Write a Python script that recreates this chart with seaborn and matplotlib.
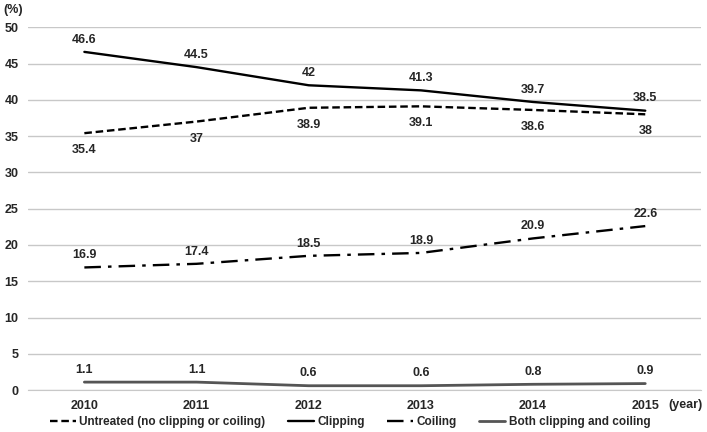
import numpy as np
import pandas as pd
import matplotlib
matplotlib.use("Agg")
import matplotlib.pyplot as plt
import seaborn as sns

years = [2010, 2011, 2012, 2013, 2014, 2015]
untreated = [35.4, 37, 38.9, 39.1, 38.6, 38]
clipping = [46.6, 44.5, 42, 41.3, 39.7, 38.5]
coiling = [16.9, 17.4, 18.5, 18.9, 20.9, 22.6]
both = [1.1, 1.1, 0.6, 0.6, 0.8, 0.9]

names = ["Untreated (no clipping or coiling)", "Clipping", "Coiling",
         "Both clipping and coiling"]
series = [untreated, clipping, coiling, both]

sns.set_style("white")
plt.rcParams['font.family'] = ['Liberation Sans', 'DejaVu Sans']

rows = []
for n, vals in zip(names, series):
    for i, (y, v) in enumerate(zip(years, vals)):
        rows.append({"pos": i, "year": y, "value": v, "series": n})
df = pd.DataFrame(rows)

fig = plt.figure(figsize=(7.07, 4.32), dpi=100)
ax = fig.add_axes([0.04, 0.097, 0.952, 0.84])

styles = {
    names[0]: dict(color="black", ls=(0, (3.2, 1.6)), lw=1.7),
    names[1]: dict(color="black", ls="-", lw=1.7),
    names[2]: dict(color="black", ls=(0, (7, 3, 1.5, 3)), lw=1.7),
    names[3]: dict(color="#555555", ls="-", lw=2.0),
}

for n in names:
    sub = df[df.series == n]
    st = styles[n]
    sns.lineplot(data=sub, x="pos", y="value", ax=ax, color=st["color"],
                 linestyle=st["ls"], linewidth=st["lw"], label=n)

# data labels
for n, vals in zip(names, series):
    below = n == names[0]
    for i, v in enumerate(vals):
        txt = f"{v:g}"
        if below:
            ax.annotate(txt, (i, v), xytext=(0, -8), textcoords="offset points",
                        ha="center", va="top", fontsize=9, fontweight="bold")
        else:
            ax.annotate(txt, (i, v), xytext=(0, 4.5), textcoords="offset points",
                        ha="center", va="bottom", fontsize=9, fontweight="bold")

ax.set_xlim(-0.5, 5.5)
ax.set_ylim(0, 50)
ax.set_yticks(np.arange(0, 51, 5))
ax.set_xticks(range(len(years)))
ax.set_xticklabels([str(y) for y in years])
ax.yaxis.grid(True, color="#c8c8c8", lw=1)
ax.set_axisbelow(True)
for s in ["top", "right", "left"]:
    ax.spines[s].set_visible(False)
ax.spines["bottom"].set_color("#c8c8c8")
ax.tick_params(axis="both", length=0, labelsize=9, pad=7)
for lab in ax.get_xticklabels() + ax.get_yticklabels():
    lab.set_fontweight("bold")
ax.set_xlabel("")
ax.set_ylabel("")

fig.text(0.005, 0.978, "(%)", fontsize=9, fontweight="bold", va="center")
fig.text(0.97, 1 - 405 / 432, "(year)", fontsize=9, fontweight="bold",
         ha="center", va="center")

ax.get_legend().remove()
handles, labels = ax.get_legend_handles_labels()
leg = fig.legend(handles, labels, loc="center", ncol=4, frameon=False,
                 bbox_to_anchor=(0.495, 10 / 432), handlelength=2.2,
                 columnspacing=1.9, handletextpad=0.3, borderpad=0,
                 prop={"size": 8.5, "weight": "bold"})

fig.savefig("out.png", dpi=100)
